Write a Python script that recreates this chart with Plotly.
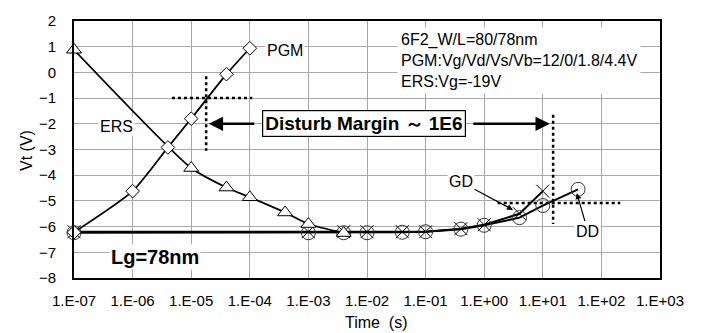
import math
import plotly.graph_objects as go

# Program / erase transients and gate / drain disturb curves
pgm_t = [1e-7, 1e-6, 4e-6, 1e-5, 4e-5, 1e-4]
pgm_vt = [-6.22, -4.62, -2.92, -1.8, -0.07, 0.94]

ers_t = [1e-7, 1e-5, 4e-5, 1e-4, 4e-4, 1e-3, 4e-3]
ers_vt = [0.88, -3.72, -4.48, -4.86, -5.45, -5.9, -6.25]

gd_t = [1e-7, 1e-3, 4e-3, 1e-2, 4e-2, 1e-1, 4e-1, 1, 4, 10]
gd_vt = [-6.2, -6.2, -6.2, -6.2, -6.2, -6.2, -6.08, -5.93, -5.5, -4.62]

dd_t = [1e-7, 1e-3, 4e-3, 1e-2, 4e-2, 1e-1, 4e-1, 1, 4, 10, 40]
dd_vt = [-6.24, -6.24, -6.24, -6.24, -6.22, -6.2, -6.1, -5.95, -5.65, -5.18, -4.55]

# Axis ticks
x_tick_vals = [1e-7, 1e-6, 1e-5, 1e-4, 1e-3, 1e-2, 1e-1, 1e0, 1e1, 1e2, 1e3]
x_tick_text = ["1.E-07", "1.E-06", "1.E-05", "1.E-04", "1.E-03", "1.E-02",
               "1.E-01", "1.E+00", "1.E+01", "1.E+02", "1.E+03"]
y_tick_vals = list(range(-8, 3))

# Dotted guide lines marking the program and disturb crossing points
guide_pgm_v_t = [1.8e-5, 1.8e-5]
guide_pgm_v_vt = [-0.15, -3.05]
guide_pgm_h_t = [4.7e-6, 1.1e-4]
guide_pgm_h_vt = [-1.0, -1.0]
guide_dist_v_t = [15, 15]
guide_dist_v_vt = [-1.65, -5.9]
guide_dist_h_t = [1.7, 2.1e2]
guide_dist_h_vt = [-5.08, -5.08]

FONT = "Liberation Sans, Arial, sans-serif"

fig = go.Figure()

dot = dict(color="black", width=2.5, dash="dot")
for gx, gy in [(guide_pgm_v_t, guide_pgm_v_vt), (guide_pgm_h_t, guide_pgm_h_vt),
               (guide_dist_v_t, guide_dist_v_vt), (guide_dist_h_t, guide_dist_h_vt)]:
    fig.add_trace(go.Scatter(x=gx, y=gy, mode="lines", line=dot,
                             showlegend=False, hoverinfo="skip"))

fig.add_trace(go.Scatter(
    x=gd_t, y=gd_vt, mode="lines+markers", name="GD", cliponaxis=False,
    line=dict(color="black", width=2),
    marker=dict(symbol="x-thin-open", size=13, color="black",
                line=dict(color="#333", width=1)),
    showlegend=False))
fig.add_trace(go.Scatter(
    x=dd_t, y=dd_vt, mode="lines+markers", name="DD", cliponaxis=False,
    line=dict(color="black", width=2),
    marker=dict(symbol="circle-open", size=14, color="#333",
                line=dict(color="#333", width=1)),
    showlegend=False))
fig.add_trace(go.Scatter(
    x=ers_t, y=ers_vt, mode="lines+markers", name="ERS", cliponaxis=False,
    line=dict(color="black", width=1.8, shape="spline", smoothing=0.6),
    marker=dict(symbol="triangle-up", size=13, color="white",
                line=dict(color="black", width=1)),
    showlegend=False))
fig.add_trace(go.Scatter(
    x=pgm_t, y=pgm_vt, mode="lines+markers", name="PGM", cliponaxis=False,
    line=dict(color="black", width=1.8, shape="spline", smoothing=0.6),
    marker=dict(symbol="diamond", size=10.5, color="white",
                line=dict(color="black", width=1)),
    showlegend=False))

lg = math.log10


def label(text, t, v, size=16, bold=False, **kw):
    fig.add_annotation(
        x=lg(t), y=v, xref="x", yref="y", text=f"<b>{text}</b>" if bold else text,
        showarrow=False, bgcolor="white",
        font=dict(family=FONT, size=size, color="black"), **kw)


label("PGM", 10 ** -3.4, 0.85)
label("ERS", 10 ** -6.27, -2.1)
label("Lg=78nm", 10 ** -5.62, -7.17, size=20, bold=True)
label("6F2_W/L=80/78nm<br>PGM:Vg/Vd/Vs/Vb=12/0/1.8/4.4V<br>ERS:Vg=-19V",
      10 ** -1.49, 1.75, xanchor="left", yanchor="top", align="left", borderpad=3)

# Disturb margin box with arrows out to both guide lines
label("Disturb Margin ～ 1E6", 10 ** -2.05, -2.0, size=19, bold=True,
      bordercolor="black", borderwidth=1.2, borderpad=2)
for head_t, off in [(10 ** -4.70, 47), (10 ** 1.12, -78)]:
    fig.add_annotation(x=lg(head_t), y=-2.0, xref="x", yref="y", text="",
                       showarrow=True, ax=off, ay=0, arrowhead=2, arrowsize=1.1,
                       arrowwidth=2.6, arrowcolor="black")

# GD / DD call-outs
fig.add_annotation(x=lg(3.1), y=-5.35, xref="x", yref="y", text="GD",
                   showarrow=True, ax=-52, ay=-28, arrowhead=2, arrowsize=1,
                   arrowwidth=1.2, arrowcolor="black", bgcolor="white",
                   font=dict(family=FONT, size=16, color="black"))
fig.add_annotation(x=lg(38), y=-4.7, xref="x", yref="y", text="DD",
                   showarrow=True, ax=11, ay=38, arrowhead=2, arrowsize=1,
                   arrowwidth=1.2, arrowcolor="black", bgcolor="white",
                   font=dict(family=FONT, size=16, color="black"))

# Axis titles, placed by pixel position converted to paper fractions
W, H = 703, 333
L, R, T, B = 74, 43, 13, 55


def px_x(px):
    return (px - L) / (W - L - R)


def px_y(py):
    return 1 - (py - T) / (H - T - B)


fig.add_annotation(x=px_x(27), y=px_y(147), xref="paper", yref="paper", text="Vt (V)",
                   showarrow=False, textangle=-90, xanchor="center", yanchor="middle",
                   font=dict(family=FONT, size=16, color="black"))
fig.add_annotation(x=px_x(376), y=px_y(324), xref="paper", yref="paper", text="Time  (s)",
                   showarrow=False, xanchor="center", yanchor="middle",
                   font=dict(family=FONT, size=16, color="black"))

fig.update_xaxes(type="log", range=[-7, 3], tickvals=x_tick_vals, ticktext=x_tick_text,
                 showgrid=True, gridcolor="#a8a8a8", gridwidth=1,
                 showline=True, linecolor="black", linewidth=2, mirror=True,
                 ticks="", ticklabelstandoff=8, zeroline=False,
                 tickfont=dict(family=FONT, size=15, color="black"))
fig.update_yaxes(range=[-8, 2], tickvals=y_tick_vals,
                 showgrid=True, gridcolor="#a8a8a8", gridwidth=1,
                 showline=True, linecolor="black", linewidth=2, mirror=True,
                 ticks="", ticklabelstandoff=13, zeroline=False,
                 tickfont=dict(family=FONT, size=15, color="black"))

fig.update_layout(width=W, height=H, margin=dict(l=L, r=R, t=T, b=B),
                  plot_bgcolor="white", paper_bgcolor="white", showlegend=False)

fig.write_html("out.html")
